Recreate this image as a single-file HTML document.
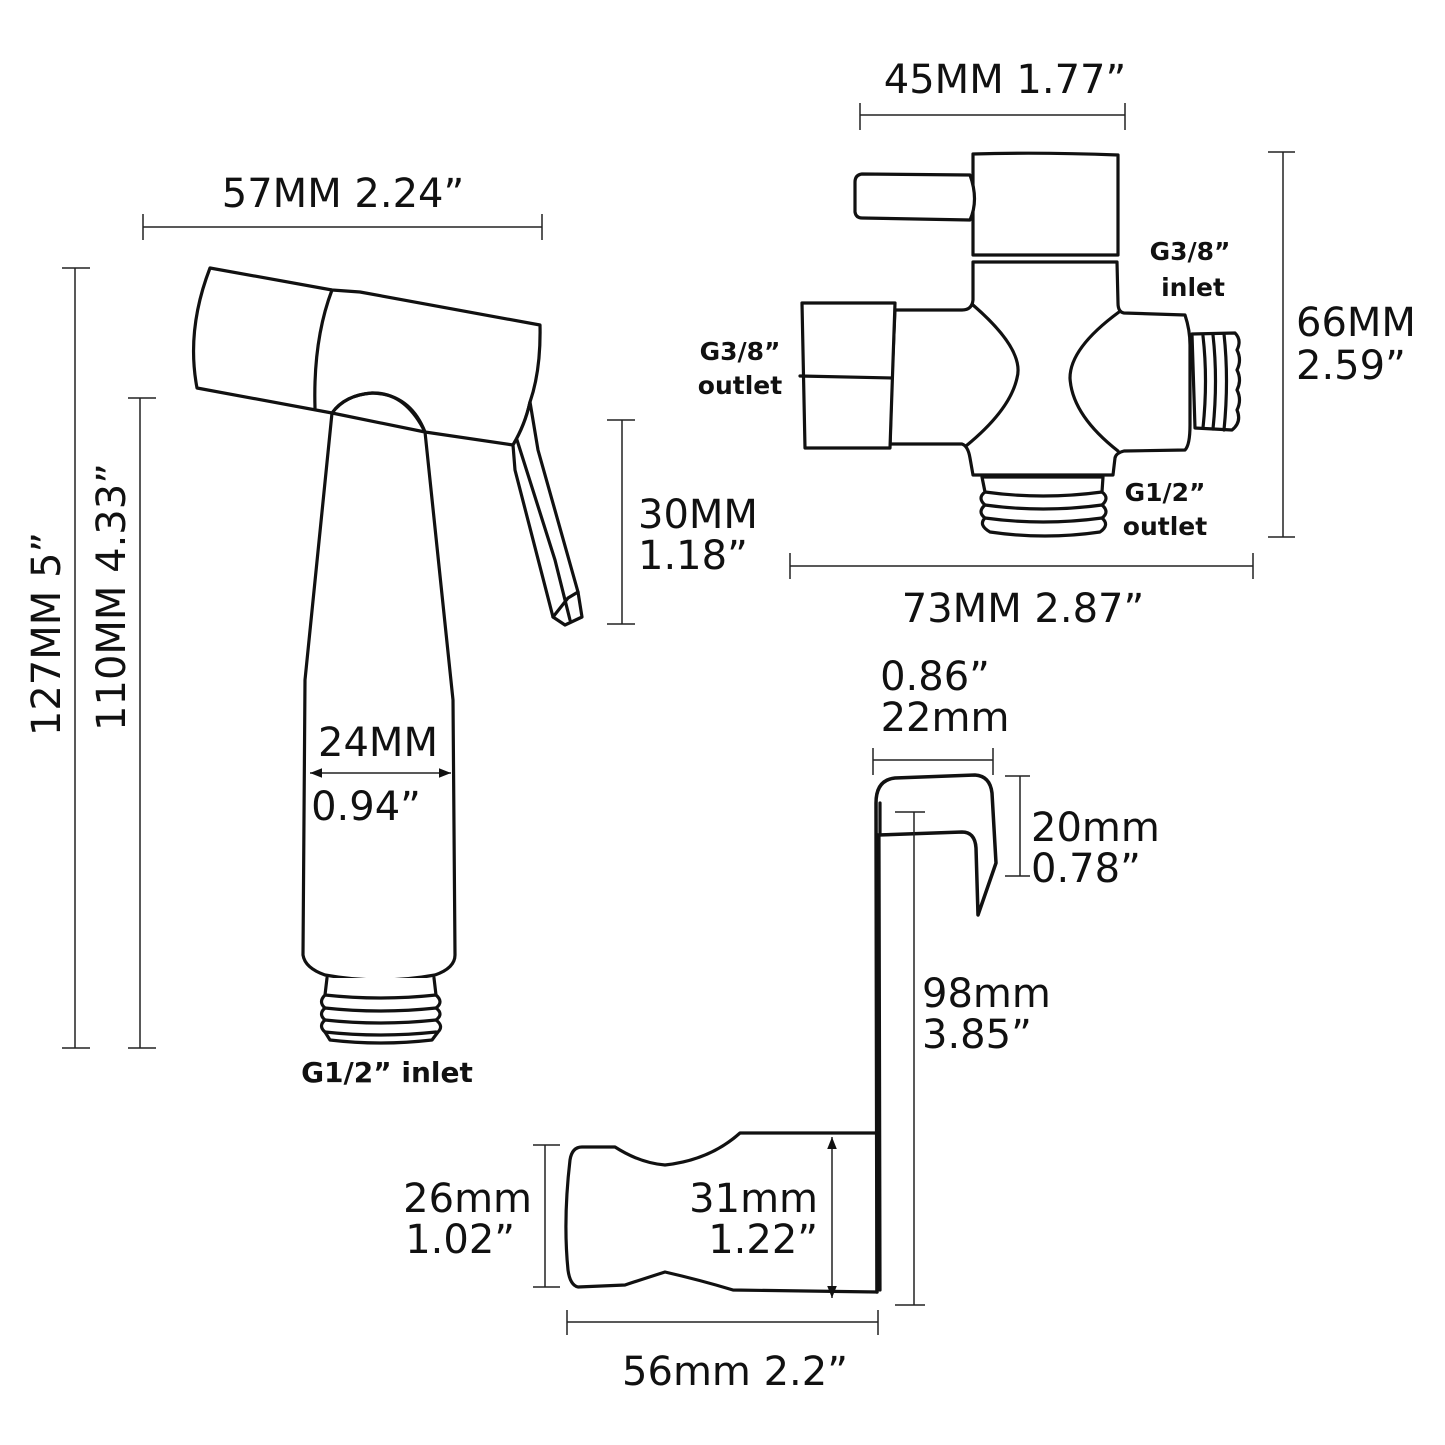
<!DOCTYPE html>
<html><head><meta charset="utf-8"><style>
html,body{margin:0;padding:0;background:#fff}
svg{display:block}
text{font-family:"DejaVu Sans","Liberation Sans",sans-serif;fill:#111}
.o{fill:#fff;stroke:#111;stroke-width:3.2;stroke-linejoin:round;stroke-linecap:round}
.n{fill:none;stroke:#111;stroke-width:3.2;stroke-linejoin:round;stroke-linecap:round}
.d{fill:none;stroke:#222;stroke-width:1.5}
.big{font-size:40px}
.sm{font-size:26px}
</style></head><body>
<svg width="1445" height="1445" viewBox="0 0 1445 1445" xmlns="http://www.w3.org/2000/svg">
<defs><marker id="ar" viewBox="0 0 10 10" refX="10" refY="5" markerWidth="8" markerHeight="8" orient="auto-start-reverse"><path d="M0,1 L10,5 L0,9 z" fill="#111"/></marker></defs>

<!-- ===== Sprayer ===== -->
<!-- stem -->
<path class="o" d="M332,413 L305,680 L303,955 Q305,968 325,975 Q380,985 435,975 Q455,968 455,955 L453,700 L425,432 Z"/>
<!-- thread -->
<path class="o" d="M327,978 L325,995 Q318,1002 325,1008 Q318,1014 325,1020 Q318,1026 325,1032 L330,1040 Q380,1046 432,1040 L438,1032 Q444,1026 436,1020 Q444,1014 436,1008 Q444,1002 436,995 L434,978"/>
<path class="n" d="M325,995 Q380,1001 436,995 M325,1008 Q380,1014 436,1008 M325,1020 Q380,1026 436,1020 M325,1032 Q380,1038 436,1032"/>
<!-- head -->
<path class="o" d="M210,268 L332,290 L360,292 L540,325 Q541,370 530,402 Q525,425 513,445 L425,432 Q405,392 372,393 Q345,395 332,413 L197,388 Q186,330 210,268 Z"/>
<path class="n" d="M332,290 Q313,340 315,408"/>
<path class="n" d="M332,413 Q345,395 372,393 Q410,394 425,432"/>
<!-- lever -->
<path class="o" d="M513,445 L515,470 L553,617 L565,625 L582,617 L578,592 L538,450 L530,402 Q525,425 513,445 Z"/>
<path class="n" d="M517,440 L555,560 L570,620 M578,592 L568,598 L553,617"/>

<!-- sprayer dims -->
<path class="d" d="M143,227 H542 M143,214 V240 M542,214 V240"/>
<text class="big" x="343" y="207" text-anchor="middle">57MM 2.24”</text>
<path class="d" d="M75,268 V1048 M62,268 H90 M62,1048 H90"/>
<text class="big" transform="translate(60,634) rotate(-90)" text-anchor="middle">127MM 5”</text>
<path class="d" d="M140,398 V1048 M128,398 H156 M128,1048 H156"/>
<text class="big" transform="translate(125,597) rotate(-90)" text-anchor="middle">110MM 4.33”</text>
<path class="d" d="M622,420 V624 M607,420 H635 M607,624 H635"/>
<text class="big" x="638" y="528">30MM</text>
<text class="big" x="638" y="569">1.18”</text>
<path class="d" d="M310,773 H451" marker-start="url(#ar)" marker-end="url(#ar)"/>
<text class="big" x="378" y="756" text-anchor="middle">24MM</text>
<text class="big" x="366" y="820" text-anchor="middle">0.94”</text>
<text class="sm" x="387" y="1082" text-anchor="middle" style="font-weight:bold;font-size:28px">G1/2” inlet</text>

<!-- ===== Valve ===== -->
<path class="o" d="M973,154 Q1040,152 1118,155 L1118,255 L973,255 Z"/>
<path class="o" d="M970,175 L862,174 Q855,175 855,182 L855,212 Q856,218 862,218 L970,220 Q979,200 970,175 Z"/>
<path class="o" d="M973,262 L1117,262 L1118,303 Q1118,312 1124,313 L1185,315 Q1190,330 1190,345 L1190,425 Q1190,445 1185,450 L1124,451 Q1116,453 1115,458 L1113,475 L973,475 L970,458 Q968,446 962,444 L890,444 L892,377 L895,310 L962,310 Q972,310 973,300 Z"/>
<path class="n" d="M973,305 Q1025,350 1017,378 Q1010,410 966,446"/>
<path class="n" d="M1119,312 Q1070,348 1070,378 Q1072,415 1118,451"/>
<path class="o" d="M802,303 L895,303 L890,448 L805,448 Z"/>
<path class="n" d="M800,376 L892,378"/>
<!-- right thread -->
<path class="o" d="M1192,334 L1235,333 Q1242,340 1237,350 Q1242,360 1237,370 Q1242,380 1237,390 Q1242,400 1237,410 Q1242,422 1232,430 L1195,428 Z"/>
<path class="n" d="M1203,336 Q1208,380 1203,428 M1213,335 Q1218,380 1213,429 M1224,334 Q1229,380 1224,430"/>
<!-- bottom thread -->
<path class="o" d="M982,477 L1103,477 L1102,492 Q1110,498 1102,505 Q1110,512 1102,518 Q1110,525 1100,532 Q1045,540 990,532 Q978,525 985,518 Q977,512 985,505 Q977,498 985,492 Z"/>
<path class="n" d="M985,492 Q1043,500 1102,492 M985,505 Q1043,513 1102,505 M985,518 Q1043,526 1102,518"/>
<!-- valve labels -->
<g style="font-weight:bold;font-size:25px" text-anchor="middle">
<text x="740" y="360">G3/8”</text><text x="740" y="394">outlet</text>
<text x="1190" y="260">G3/8”</text><text x="1193" y="296">inlet</text>
<text x="1165" y="501">G1/2”</text><text x="1165" y="535">outlet</text>
</g>
<!-- valve dims -->
<path class="d" d="M860,115 H1125 M860,103 V130 M1125,103 V130"/>
<text class="big" x="1005" y="93" text-anchor="middle">45MM 1.77”</text>
<path class="d" d="M1283,152 V537 M1268,152 H1295 M1268,537 H1295"/>
<text class="big" x="1296" y="336">66MM</text>
<text class="big" x="1296" y="379">2.59”</text>
<path class="d" d="M790,566 H1253 M790,553 V579 M1253,553 V579"/>
<text class="big" x="1023" y="622" text-anchor="middle">73MM 2.87”</text>

<!-- ===== Hook ===== -->
<path class="o" d="M740,1133 L877,1133 L877,1292 L733,1290 Q700,1280 665,1272 Q640,1280 625,1285 L578,1287 Q570,1285 568,1270 Q563,1220 570,1160 Q572,1147 582,1147 L615,1147 Q640,1163 665,1165 Q710,1160 740,1133 Z"/>
<path class="o" d="M877,1292 L876,803 Q876,780 895,778 L975,775 Q990,776 992,793 L996,863 L978,915 L976,848 Q975,832 962,832 L878,835" style="fill:none;stroke-width:3.5"/>
<path class="n" d="M880,1290 L879,836 M880,803 L880,834"/>
<!-- hook dims -->
<path class="d" d="M873,760 H993 M873,748 V775 M993,748 V775"/>
<text class="big" x="935" y="690" text-anchor="middle">0.86”</text>
<text class="big" x="945" y="731" text-anchor="middle">22mm</text>
<path class="d" d="M1020,776 V876 M1005,776 H1030 M1005,876 H1030"/>
<text class="big" x="1031" y="841">20mm</text>
<text class="big" x="1031" y="882">0.78”</text>
<path class="d" d="M914,812 V1305 M895,812 H925 M895,1305 H925"/>
<text class="big" x="922" y="1007">98mm</text>
<text class="big" x="922" y="1048">3.85”</text>
<path class="d" d="M832,1137 V1298" marker-start="url(#ar)" marker-end="url(#ar)"/>
<text class="big" x="818" y="1212" text-anchor="end">31mm</text>
<text class="big" x="818" y="1253" text-anchor="end">1.22”</text>
<path class="d" d="M545,1145 V1287 M533,1145 H560 M533,1287 H560"/>
<text class="big" x="532" y="1212" text-anchor="end">26mm</text>
<text class="big" x="515" y="1253" text-anchor="end">1.02”</text>
<path class="d" d="M567,1322 H878 M567,1310 V1335 M878,1310 V1335"/>
<text class="big" x="735" y="1385" text-anchor="middle">56mm 2.2”</text>
</svg>
</body></html>
